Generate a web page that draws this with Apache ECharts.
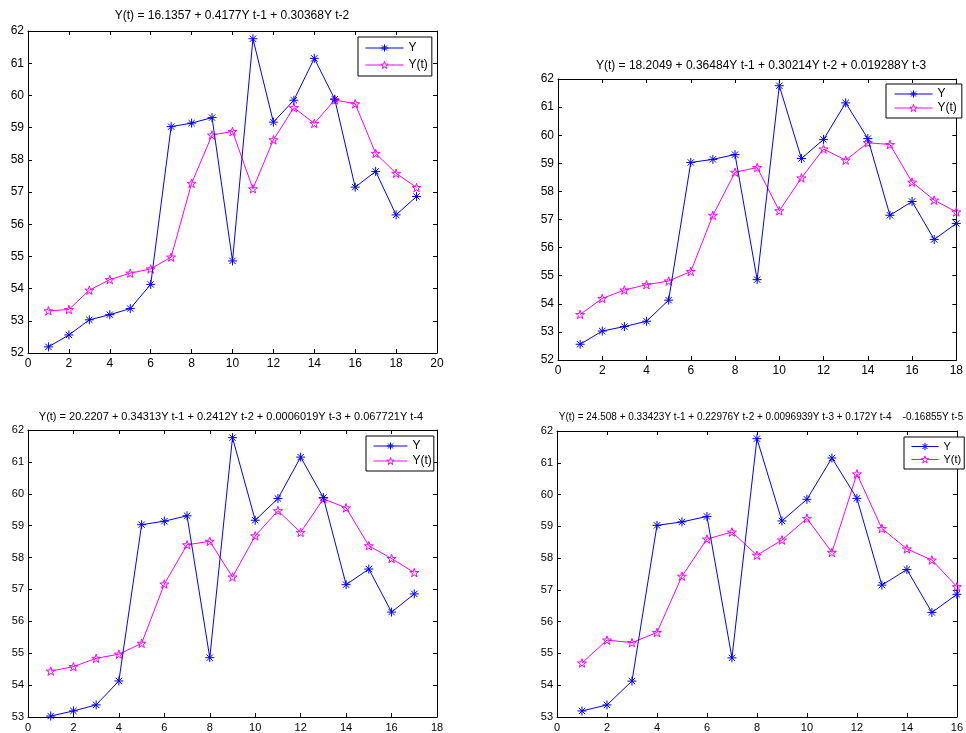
<!DOCTYPE html>
<html><head><meta charset="utf-8">
<script src="https://cdn.jsdelivr.net/npm/echarts@6/dist/echarts.min.js"></script>
<style>html,body{margin:0;padding:0;background:#fff}#c{width:966px;height:733px}</style>
</head><body><div id="c"></div>
<script>
// ---- data ----
const titleTL = 'Y(t) = 16.1357 + 0.4177Y t-1 + 0.30368Y t-2';
const titleTR = 'Y(t) = 18.2049 + 0.36484Y t-1 + 0.30214Y t-2 + 0.019288Y t-3';
const titleBL = 'Y(t) = 20.2207 + 0.34313Y t-1 + 0.2412Y t-2 + 0.0006019Y t-3 + 0.067721Y t-4';
const titleBR = 'Y(t) = 24.508 + 0.33423Y t-1 + 0.22976Y t-2 + 0.0096939Y t-3 + 0.172Y t-4    -0.16855Y t-5';
const legendNames = ['Y', 'Y(t)'];

const yTL = [52.19, 52.56, 53.03, 53.19, 53.38, 54.13, 59.03, 59.14, 59.31, 54.86, 61.76, 59.17, 59.85, 61.15, 59.88, 57.15, 57.64, 56.29, 56.86];
const fTL = [53.31, 53.35, 53.95, 54.28, 54.48, 54.61, 54.98, 57.27, 58.77, 58.88, 57.10, 58.62, 59.62, 59.13, 59.86, 59.74, 58.20, 57.58, 57.14];

const yTR = [52.56, 53.03, 53.19, 53.38, 54.13, 59.03, 59.14, 59.31, 54.86, 61.76, 59.17, 59.85, 61.15, 59.88, 57.15, 57.64, 56.29, 56.86];
const fTR = [53.62, 54.19, 54.49, 54.68, 54.81, 55.15, 57.15, 58.68, 58.85, 57.31, 58.48, 59.51, 59.11, 59.73, 59.67, 58.33, 57.69, 57.27];

const yBL = [53.03, 53.19, 53.38, 54.13, 59.03, 59.14, 59.31, 54.86, 61.76, 59.17, 59.85, 61.15, 59.88, 57.15, 57.64, 56.29, 56.86];
const fBL = [54.44, 54.58, 54.84, 54.97, 55.31, 57.17, 58.40, 58.51, 57.39, 58.68, 59.47, 58.79, 59.84, 59.56, 58.37, 57.97, 57.53];

const yBR = [53.19, 53.38, 54.13, 59.03, 59.14, 59.31, 54.86, 61.76, 59.17, 59.85, 61.15, 59.88, 57.15, 57.64, 56.29, 56.86];
const fBR = [54.70, 55.42, 55.34, 55.66, 57.43, 58.60, 58.82, 58.09, 58.57, 59.25, 58.18, 60.65, 58.93, 58.29, 57.94, 57.10];

const xMaxes = [20, 18, 18, 16];
const yMins = [52, 52, 53, 53];
const yMaxes = [62, 62, 62, 62];

// ---- styling / layout ----
const FONT = '"Liberation Sans", Arial, sans-serif';
const ASTER = 'path://M5,0L5,10M0,5L10,5M1.5,1.5L8.5,8.5M1.5,8.5L8.5,1.5';
const PENTA = 'path://M0,-100L22.45,-30.9L95.1,-30.9L36.3,11.8L58.8,80.9L0,38.2L-58.8,80.9L-36.3,11.8L-95.1,-30.9L-22.45,-30.9Z';

const panels = [
  {y: yTL, f: fTL, title: titleTL, grid: {left: 28, top: 31, width: 409, height: 322}, tfs: 12, tcx: 232, tty: 10, lfs: 12,
   legend: {left: 358, top: 37, itemWidth: 38, itemGap: 5, padding: [5, 4, 5, 7], fs: 12}},
  {y: yTR, f: fTR, title: titleTR, grid: {left: 558, top: 79, width: 409, height: 281}, tfs: 12, tcx: 761, tty: 60, lfs: 12,
   legend: {left: 886, top: 84, itemWidth: 38, itemGap: 2, padding: [4, 5, 4, 8], fs: 12}},
  {y: yBL, f: fBL, title: titleBL, grid: {left: 28, top: 430, width: 409, height: 287}, tfs: 11, tcx: 231, tty: 411, lfs: 11,
   legend: {left: 366, top: 436, itemWidth: 34, itemGap: 3, padding: [4, 2, 4, 7], fs: 12}},
  {y: yBR, f: fBR, title: titleBR, grid: {left: 557, top: 431, width: 409, height: 286}, tfs: 10, tcx: 761, tty: 412, lfs: 11,
   legend: {left: 904, top: 437, itemWidth: 27, itemGap: 2, padding: [4, 3, 4, 7], fs: 11}}
];

const grid = [], xAxis = [], yAxis = [], series = [], title = [], legend = [];

panels.forEach((p, g) => {
  grid.push(Object.assign({containLabel: false}, p.grid));
  const common = {
    type: 'value', gridIndex: g, splitLine: {show: false},
    axisLine: {show: true, onZero: false, lineStyle: {color: '#000', width: 1}},
    axisTick: {show: true, inside: true, length: 4, lineStyle: {color: '#000', width: 1}}
  };
  const lab = {color: '#000', fontSize: p.lfs, fontFamily: FONT};
  xAxis.push(Object.assign({}, common, {min: 0, max: xMaxes[g], interval: 2, position: 'bottom',
    axisLabel: Object.assign({margin: 5}, lab)}));
  xAxis.push(Object.assign({}, common, {min: 0, max: xMaxes[g], interval: 2, position: 'top', axisLabel: {show: false}}));
  yAxis.push(Object.assign({}, common, {min: yMins[g], max: yMaxes[g], interval: 1, position: 'left',
    axisLabel: Object.assign({margin: 4}, lab)}));
  yAxis.push(Object.assign({}, common, {min: yMins[g], max: yMaxes[g], interval: 1, position: 'right', axisLabel: {show: false}}));

  series.push({
    name: legendNames[0], type: 'line', xAxisIndex: 2 * g, yAxisIndex: 2 * g,
    data: p.y.map((v, i) => [i + 1, v]),
    symbol: ASTER, symbolSize: 9, showAllSymbol: true,
    lineStyle: {color: '#0000ff', width: 1},
    itemStyle: {color: '#0000ff', borderColor: '#0000ff', borderWidth: 1},
    emphasis: {disabled: true}, z: 3
  });
  series.push({
    name: legendNames[1], type: 'line', xAxisIndex: 2 * g, yAxisIndex: 2 * g,
    data: p.f.map((v, i) => [i + 1, v]),
    symbol: PENTA, symbolSize: 9, symbolKeepAspect: true, showAllSymbol: true,
    lineStyle: {color: '#ff00ff', width: 1},
    itemStyle: {color: 'rgba(255,255,255,0)', borderColor: '#ff00ff', borderWidth: 1},
    emphasis: {disabled: true}, z: 2
  });

  title.push({
    text: p.title, left: p.tcx, top: p.tty, textAlign: 'center', padding: 0,
    textStyle: {fontSize: p.tfs, fontWeight: 'normal', color: '#000', fontFamily: FONT}
  });

  const L = p.legend;
  legend.push({
    data: legendNames.slice(), orient: 'vertical', left: L.left, top: L.top,
    itemWidth: L.itemWidth, itemHeight: 9, itemGap: L.itemGap, padding: L.padding,
    backgroundColor: '#fff', borderColor: '#000', borderWidth: 1, borderRadius: 0,
    selectedMode: false,
    lineStyle: {width: 1},
    itemStyle: {color: '#fff', borderColor: 'inherit', borderWidth: 1},
    textStyle: {fontSize: L.fs, color: '#000', fontFamily: FONT}
  });
});

const chart = echarts.init(document.getElementById('c'), null, {renderer: 'canvas'});
chart.setOption({
  animation: false,
  backgroundColor: '#fff',
  title, legend, grid, xAxis, yAxis, series
});
</script>
</body></html>
